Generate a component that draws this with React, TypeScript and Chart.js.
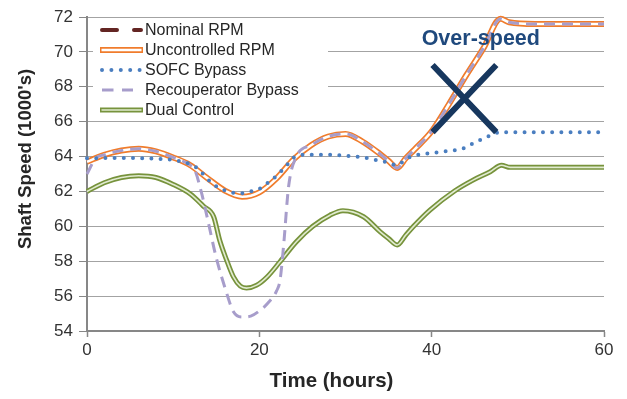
import React, { useEffect, useRef } from "react";
import { Chart, registerables } from "chart.js";

Chart.register(...registerables);

// ---------- axis settings ----------
const X_MIN = 0;
const X_MAX = 60;
const X_STEP = 20;
const Y_MIN = 54;
const Y_MAX = 72;
const Y_STEP = 2;
const X_TITLE = "Time (hours)";
const Y_TITLE = "Shaft Speed (1000's)";
const SERIES_NAMES = [
  "Nominal RPM",
  "Uncontrolled RPM",
  "SOFC Bypass",
  "Recouperator Bypass",
  "Dual Control",
];

// ---------- data ----------
const rpmHours = [0, 2, 4, 6, 8, 10, 12, 14, 16, 18, 20, 22, 24, 26, 28, 30, 32, 34, 35, 36, 37, 38, 40, 42, 44, 46, 48, 49, 52, 56, 60];
const nominalRpm = [63.7, 64.1, 64.35, 64.45, 64.3, 63.95, 63.5, 62.75, 62.05, 61.7, 61.95, 62.75, 63.85, 64.65, 65.15, 65.3, 64.85, 64.15, 63.75, 63.35, 63.9, 64.4, 65.45, 67.0, 68.65, 70.2, 71.9, 71.7, 71.6, 71.6, 71.6];
const uncontrolledRpm = [63.7, 64.1, 64.35, 64.45, 64.3, 63.95, 63.5, 62.75, 62.05, 61.7, 61.95, 62.75, 63.85, 64.65, 65.15, 65.3, 64.85, 64.15, 63.75, 63.35, 63.9, 64.4, 65.45, 67.0, 68.65, 70.2, 71.9, 71.7, 71.6, 71.6, 71.6];

const sofcHours = [0, 4, 8, 10, 11, 12, 13, 14, 15, 16, 17, 18, 19, 20, 21, 22, 23, 24, 25, 28, 30, 32, 34, 35, 36, 37, 38, 40, 42, 43.5, 44.5, 45.5, 46.5, 48, 50, 60];
const sofcBypass = [63.9, 63.92, 63.88, 63.8, 63.7, 63.55, 63.25, 62.7, 62.3, 62.05, 61.92, 61.9, 62.0, 62.15, 62.5, 62.9, 63.4, 63.95, 64.1, 64.1, 64.05, 63.95, 63.75, 63.65, 63.5, 63.85, 64.05, 64.2, 64.33, 64.43, 64.68, 64.92, 65.15, 65.4, 65.4, 65.4];

const recupHours = [0, 1, 2, 4, 6, 8, 10, 12, 12.5, 13.3, 14, 15, 16, 17, 18, 19, 20, 21, 22, 22.4, 22.8, 23.4, 24.3, 26, 28, 30, 32, 34, 35, 36, 37, 38, 40, 42, 44, 46, 48, 49, 52, 56, 60];
const recupBypass = [63.0, 63.9, 64.1, 64.35, 64.45, 64.3, 63.95, 63.5, 63.25, 61.9, 60.4, 58.2, 56.5, 55.1, 54.8, 54.85, 55.15, 55.6, 56.3, 56.9, 58.8, 62.3, 64.0, 64.65, 65.15, 65.3, 64.85, 64.15, 63.75, 63.35, 63.9, 64.4, 65.45, 67.0, 68.65, 70.2, 71.9, 71.7, 71.6, 71.6, 71.6];

const dualHours = [0, 2, 4, 6, 8, 10, 12, 13.5, 14.7, 15.4, 16.2, 17, 17.8, 18.5, 19.7, 20.9, 22.4, 24.3, 26.2, 28.2, 29.7, 32.1, 34, 35, 36, 37, 37.9, 39.8, 42.7, 44.8, 46.8, 48.1, 49.1, 52, 56, 60];
const dualControl = [62.0, 62.5, 62.8, 62.9, 62.8, 62.4, 61.85, 61.16, 60.55, 59.2, 58.07, 57.1, 56.57, 56.46, 56.63, 57.1, 57.97, 59.12, 60.0, 60.64, 60.9, 60.55, 59.7, 59.3, 58.93, 59.5, 60.0, 60.93, 62.04, 62.65, 63.13, 63.5, 63.38, 63.38, 63.38, 63.38];

// annotation (in data units)
const NOTE_TEXT = "Over-speed";
const NOTE_AT = { x: 45.7, y: 70.4 };
const CROSS_X = [40.1, 47.5];
const CROSS_Y = [69.25, 65.4];

// ---------- styles ----------
const FONT = '"Liberation Sans", Arial, Helvetica, sans-serif';
const C_NOMINAL = "#632523";
const C_ORANGE = "#F07C2C";
const C_BLUE = "#4A7EC0";
const C_PURPLE = "#A79DCB";
const C_GREEN = "#77933C";
const C_GREEN_IN = "#E1EBD0";
const C_GRID = "#a3a3a3";
const C_AXIS = "#878787";
const C_TEXT = "#333333";

const pts = (hours: number[], vals: number[]) => hours.map((h, i) => ({ x: h, y: vals[i] }));

const lineBase = {
  pointRadius: 0,
  pointHoverRadius: 0,
  fill: false,
  cubicInterpolationMode: "monotone" as const,
  clip: false as any,
};

const legendPlugin = {
  id: "insideLegend",
  afterDatasetsDraw(chart: any) {
    const { ctx, chartArea } = chart;
    const L = chartArea.left;
    const T = chartArea.top;
    ctx.save();
    ctx.fillStyle = "#ffffff";
    ctx.fillRect(L + 6, T + 2, 235, 102);
    const x0 = L + 13;
    const x1 = L + 56;
    const rowY = (i: number) => T + 13 + i * 20;
    const seg = (y: number, color: string, w: number, dash: number[], cap: CanvasLineCap, xa = x0, xb = x1) => {
      ctx.beginPath();
      ctx.setLineDash(dash);
      ctx.lineCap = cap;
      ctx.strokeStyle = color;
      ctx.lineWidth = w;
      ctx.moveTo(xa, y);
      ctx.lineTo(xb, y);
      ctx.stroke();
    };
    // Nominal
    seg(rowY(0), C_NOMINAL, 4, [15, 17], "round", x0 + 2, x1 - 2);
    // Uncontrolled
    seg(rowY(1), C_ORANGE, 6, [], "butt");
    seg(rowY(1), "#ffffff", 2.6, [], "butt", x0 + 1.5, x1 - 1.5);
    // SOFC
    seg(rowY(2), C_BLUE, 4, [0, 9.4], "round", x0 + 2, x1);
    // Recouperator
    seg(rowY(3), C_PURPLE, 3, [11.5, 8.5], "butt", x0 + 2, x1 - 10);
    // Dual
    seg(rowY(4), C_GREEN, 5, [], "butt");
    seg(rowY(4), C_GREEN_IN, 1.6, [], "butt", x0 + 1.5, x1 - 1.5);
    ctx.setLineDash([]);
    ctx.fillStyle = "#262626";
    ctx.font = `16px ${FONT}`;
    ctx.textAlign = "left";
    ctx.textBaseline = "middle";
    SERIES_NAMES.forEach((n, i) => ctx.fillText(n, x1 + 2, rowY(i) + 1));
    ctx.restore();
  },
};

const notePlugin = {
  id: "overspeedNote",
  afterDatasetsDraw(chart: any) {
    const { ctx } = chart;
    const xs = chart.scales.x;
    const ys = chart.scales.y;
    ctx.save();
    ctx.strokeStyle = "#17375E";
    ctx.lineWidth = 6;
    ctx.lineCap = "butt";
    ctx.beginPath();
    ctx.moveTo(xs.getPixelForValue(CROSS_X[0]), ys.getPixelForValue(CROSS_Y[0]));
    ctx.lineTo(xs.getPixelForValue(CROSS_X[1]), ys.getPixelForValue(CROSS_Y[1]));
    ctx.moveTo(xs.getPixelForValue(CROSS_X[1]), ys.getPixelForValue(CROSS_Y[0]));
    ctx.lineTo(xs.getPixelForValue(CROSS_X[0]), ys.getPixelForValue(CROSS_Y[1]));
    ctx.stroke();
    ctx.fillStyle = "#1F497D";
    ctx.font = `bold 21.5px ${FONT}`;
    ctx.textAlign = "center";
    ctx.textBaseline = "alphabetic";
    ctx.fillText(NOTE_TEXT, xs.getPixelForValue(NOTE_AT.x), ys.getPixelForValue(NOTE_AT.y));
    ctx.restore();
  },
};

const titlesPlugin = {
  id: "axisTitles",
  afterDraw(chart: any) {
    const { ctx, chartArea } = chart;
    ctx.save();
    ctx.fillStyle = "#262626";
    ctx.textAlign = "center";
    ctx.textBaseline = "middle";
    ctx.font = `bold 20.5px ${FONT}`;
    ctx.fillText(X_TITLE, (chartArea.left + chartArea.right) / 2 - 14, 381.5);
    ctx.translate(25.5, (chartArea.top + chartArea.bottom) / 2 - 15);
    ctx.rotate(-Math.PI / 2);
    ctx.font = `bold 18.5px ${FONT}`;
    ctx.fillText(Y_TITLE, 0, 0);
    ctx.restore();
  },
};

export default function App() {
  const ref = useRef<HTMLCanvasElement | null>(null);

  useEffect(() => {
    if (!ref.current) return;
    const chart = new Chart(ref.current, {
      type: "line",
      data: {
        datasets: [
          { ...lineBase, label: SERIES_NAMES[4], data: pts(dualHours, dualControl), borderColor: C_GREEN, borderWidth: 5, order: 10 },
          { ...lineBase, label: SERIES_NAMES[4] + " inner", data: pts(dualHours, dualControl), borderColor: C_GREEN_IN, borderWidth: 1.6, order: 9 },
          { ...lineBase, label: SERIES_NAMES[0], data: pts(rpmHours, nominalRpm), borderColor: C_NOMINAL, borderWidth: 3, borderDash: [15, 15], order: 8 },
          { ...lineBase, label: SERIES_NAMES[1], data: pts(rpmHours, uncontrolledRpm), borderColor: C_ORANGE, borderWidth: 6, order: 7 },
          { ...lineBase, label: SERIES_NAMES[1] + " inner", data: pts(rpmHours, uncontrolledRpm), borderColor: "#ffffff", borderWidth: 2.6, order: 6 },
          { ...lineBase, label: SERIES_NAMES[3], data: pts(recupHours, recupBypass), borderColor: C_PURPLE, borderWidth: 3, borderDash: [11, 7], order: 5 },
          { ...lineBase, label: SERIES_NAMES[2], data: pts(sofcHours, sofcBypass), borderColor: C_BLUE, borderWidth: 4, borderDash: [0, 9.2], borderCapStyle: "round", order: 4 },
        ] as any,
      },
      options: {
        animation: false,
        responsive: true,
        maintainAspectRatio: false,
        layout: { padding: { top: 17, right: 23, left: 0, bottom: 0 } },
        plugins: {
          legend: { display: false },
          tooltip: { enabled: false },
          title: { display: false },
        },
        scales: {
          x: {
            type: "linear",
            min: X_MIN,
            max: X_MAX,
            ticks: { stepSize: X_STEP, color: C_TEXT, font: { size: 17, family: FONT }, padding: 3, maxRotation: 0 },
            grid: { drawOnChartArea: false, drawTicks: true, tickLength: 6, tickColor: C_AXIS, tickWidth: 1.5 },
            border: { display: true, color: C_AXIS, width: 2 },
            afterFit(s: any) {
              s.height = 68;
            },
          },
          y: {
            type: "linear",
            min: Y_MIN,
            max: Y_MAX,
            ticks: { stepSize: Y_STEP, color: C_TEXT, font: { size: 17, family: FONT }, padding: 6 },
            grid: { color: C_GRID, lineWidth: 1, drawTicks: true, tickLength: 8, tickColor: C_AXIS },
            border: { display: true, color: C_AXIS, width: 2 },
            afterFit(s: any) {
              s.width = 87;
            },
          },
        },
      },
      plugins: [legendPlugin, notePlugin, titlesPlugin],
    });
    return () => chart.destroy();
  }, []);

  return (
    <div style={{ position: "fixed", left: 0, top: 0, width: 627, height: 399, background: "#ffffff" }}>
      <canvas ref={ref} />
    </div>
  );
}
